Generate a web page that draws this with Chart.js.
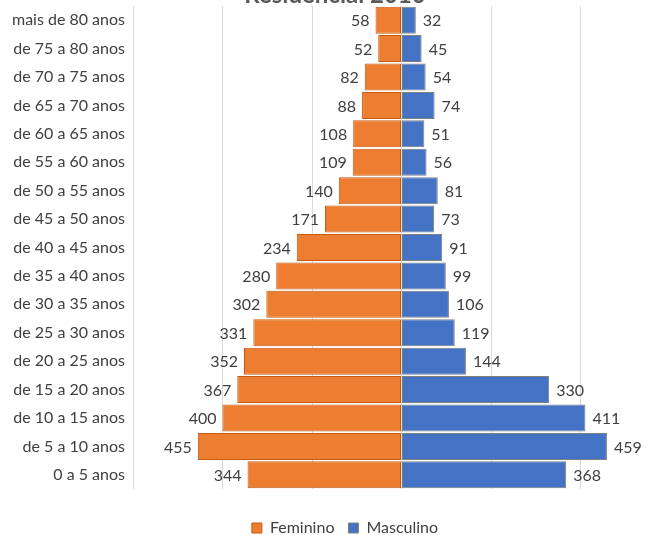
<!DOCTYPE html>
<html>
<head>
<meta charset="utf-8">
<script src="https://cdn.jsdelivr.net/npm/chart.js@4"></script>
<style>
  html, body { margin: 0; padding: 0; background: #fff; overflow: hidden; }
  #wrap { width: 647px; height: 535px; overflow: hidden; position: relative; }
  #box { position: absolute; left: 0; top: 0; width: 690px; height: 535px; }
</style>
</head>
<body>
<div id="wrap"><div id="box"><canvas id="piramide"></canvas></div></div>
<script>
const faixas = [
  "mais de 80 anos", "de 75 a 80 anos", "de 70 a 75 anos", "de 65 a 70 anos",
  "de 60 a 65 anos", "de 55 a 60 anos", "de 50 a 55 anos", "de 45 a 50 anos",
  "de 40 a 45 anos", "de 35 a 40 anos", "de 30 a 35 anos", "de 25 a 30 anos",
  "de 20 a 25 anos", "de 15 a 20 anos", "de 10 a 15 anos", "de 5 a 10 anos",
  "0 a 5 anos"
];
const feminino = [58, 52, 82, 88, 108, 109, 140, 171, 234, 280, 302, 331, 352, 367, 400, 455, 344];
const masculino = [32, 45, 54, 74, 51, 56, 81, 73, 91, 99, 106, 119, 144, 330, 411, 459, 368];
const eixoX = [-600, -400, -200, 0, 200, 400, 600];
const titulo = "Residencial 2010";

const fonte = "Lato, 'Liberation Sans', sans-serif";

// título rente ao topo (só a base das letras aparece)
const tituloTopo = {
  id: "tituloTopo",
  afterLayout(chart) {
    // legenda centrada na largura total do canvas
    if (chart.legend) {
      chart.legend.left += 10;
      chart.legend.right += 10;
    }
  },
  afterDraw(chart) {
    const ctx = chart.ctx;
    ctx.save();
    ctx.font = "bold 24px " + fonte;
    ctx.fillStyle = "#595959";
    ctx.textAlign = "center";
    ctx.textBaseline = "alphabetic";
    ctx.fillText(titulo, 335, 3);
    ctx.restore();
  }
};

// rótulos de valor ao lado de cada barra
const rotulos = {
  id: "rotulos",
  afterDatasetsDraw(chart) {
    const ctx = chart.ctx;
    ctx.save();
    ctx.font = "16px " + fonte;
    ctx.fillStyle = "#404040";
    ctx.textBaseline = "middle";
    chart.data.datasets.forEach((ds, i) => {
      const meta = chart.getDatasetMeta(i);
      meta.data.forEach((bar, j) => {
        const v = ds.data[j];
        if (v < 0) {
          ctx.textAlign = "right";
          ctx.fillText(String(-v), bar.x - 6, bar.y + 1);
        } else {
          ctx.textAlign = "left";
          ctx.fillText(String(v), bar.x + 7, bar.y + 1);
        }
      });
    });
    ctx.restore();
  }
};

new Chart(document.getElementById("piramide"), {
  type: "bar",
  data: {
    labels: faixas,
    datasets: [
      {
        label: "Feminino",
        data: feminino.map(v => -v),
        backgroundColor: "#ED7D31",
        borderColor: "#C55A11",
        borderWidth: 1,
        borderSkipped: false,
        barPercentage: 0.95,
        categoryPercentage: 1
      },
      {
        label: "Masculino",
        data: masculino,
        backgroundColor: "#4472C4",
        borderColor: "#7F7F7F",
        borderWidth: 1,
        borderSkipped: false,
        barPercentage: 0.95,
        categoryPercentage: 1
      }
    ]
  },
  options: {
    indexAxis: "y",
    responsive: true,
    maintainAspectRatio: false,
    animation: false,
    layout: { padding: { left: 0, right: 20, top: 6, bottom: -11 } },
    scales: {
      x: {
        stacked: true,
        min: -600,
        max: 600,
        afterBuildTicks(scale) { scale.ticks = eixoX.map(v => ({ value: v })); },
        afterFit(scale) { scale.height = 17; },
        ticks: { display: false },
        border: { display: false },
        grid: { color: "#D9D9D9", lineWidth: 1, drawTicks: false }
      },
      y: {
        stacked: true,
        afterFit(scale) {
          scale.width = 133;
          scale.paddingTop = 0;
          scale.paddingBottom = 0;
        },
        ticks: {
          color: "#404040",
          padding: 0,
          font: { family: fonte, size: 16 }
        },
        border: { display: false },
        grid: { display: false }
      }
    },
    plugins: {
      title: { display: false },
      legend: {
        position: "bottom",
        labels: {
          boxWidth: 10,
          boxHeight: 10,
          color: "#404040",
          padding: 14,
          font: { family: fonte, size: 16 }
        }
      },
      tooltip: { enabled: false }
    }
  },
  plugins: [rotulos, tituloTopo]
});
</script>
</body>
</html>
